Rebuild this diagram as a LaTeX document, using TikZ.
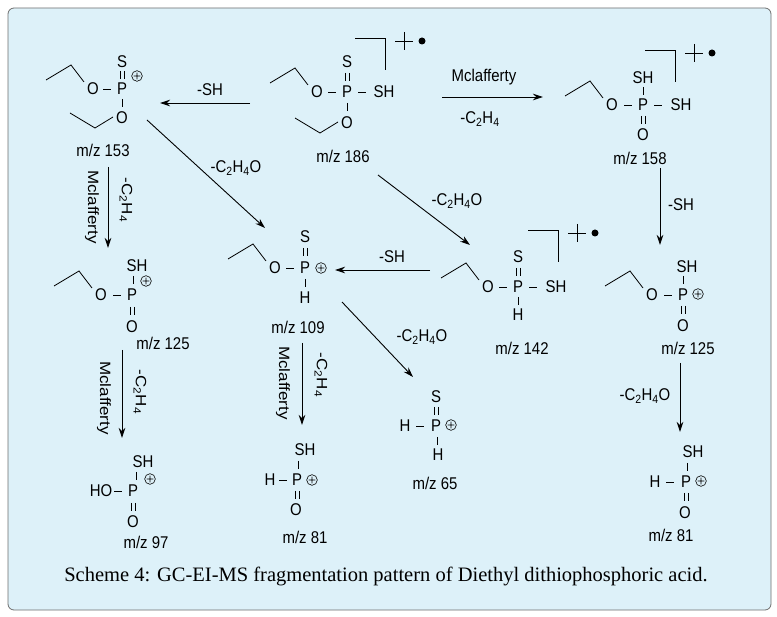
\documentclass[tikz,border=0pt]{standalone}
\usepackage{fontspec}
\usepackage{graphicx}
\usetikzlibrary{arrows.meta}
\setmainfont{Liberation Sans}
\newfontfamily\capfont{Liberation Serif}
\newcommand\sq[1]{\scalebox{0.88}[1]{#1}}
\newcommand\sqr[1]{\scalebox{1}[0.88]{#1}}
\begin{document}
\begin{tikzpicture}[x=1pt,y=-1pt,
  atom/.style={inner sep=0pt,font=\fontsize{17}{17}\selectfont},
  lab/.style={inner sep=0pt,font=\fontsize{17}{17}\selectfont},
  rx/.style={-{Stealth[length=10pt,width=6.5pt]},line width=0.9pt},
  bd/.style={line width=0.8pt}]
\useasboundingbox (0,0) rectangle (777,617);
\draw[fill={rgb,255:red,221;green,241;blue,249},draw={rgb,255:red,110;green,110;blue,110},line width=0.8pt,rounded corners=6pt] (8,8) rectangle (771,610);
% macros
\def\A(#1,#2)#3{\node[atom] at (#1,#2) {\sq{#3}};}
\def\hb(#1,#2){\draw[bd] (#1-4,#2)--(#1+4,#2);}
\def\vb(#1,#2){\draw[bd] (#1,#2-4)--(#1,#2+4);}
\def\db(#1,#2){\draw[bd] (#1-2,#2-4)--(#1-2,#2+4) (#1+2,#2-4)--(#1+2,#2+4);}
\def\pl(#1,#2){\draw[line width=0.6pt] (#1,#2) circle (5.3) (#1-3.4,#2)--(#1+3.4,#2) (#1,#2-3.4)--(#1,#2+3.4);}
\def\et(#1,#2){\draw[bd] (#1-47,#2-9)--(#1-22,#2-24)--(#1-9,#2-7);}
\def\eto(#1,#2){\draw[bd] (#1-52,#2-5)--(#1-27,#2+10)--(#1-9,#2-1);}
\def\rc(#1,#2){\draw[line width=0.9pt] (#1,#2)--(#1+30,#2)--(#1+30,#2+32);
  \draw[line width=0.7pt] (#1+40,#2+3)--(#1+58,#2+3) (#1+49,#2-6)--(#1+49,#2+12);
  \fill (#1+67,#2+3) circle (3.5);}
% A m/z 153
\A(122,62){S}\db(122,75)\A(122,89){P}\pl(137,76)\A(93,89){O}\hb(107,89)\et(93,89)
\vb(122,103)\A(122,118){O}\eto(122,118)
\node[lab] (a) at (103,150) {\sq{m/z 153}};
% B m/z 186
\A(347,62){S}\db(347,77)\A(347,92){P}\A(317,92){O}\hb(332,92)\hb(362,92)\A(384,92){SH}\et(317,92)
\vb(347,107)\A(347,123){O}\eto(347,123)\rc(355,38)
\node[lab] (b) at (343,156) {\sq{m/z 186}};
% C m/z 158
\A(643,78){SH}\vb(643,91)\A(643,105){P}\A(612,105){O}\hb(628,105)\hb(658,105)\A(681,105){SH}\et(612,105)
\db(643,120)\A(643,135){O}\rc(645,50)
\node[lab] (c) at (640,158) {\sq{m/z 158}};
% D m/z 125 right
\A(687,267){SH}\vb(683,280)\A(683,295){P}\pl(698,294)\A(652,295){O}\hb(668,295)\et(652,295)
\db(683,310)\A(683,326){O}
\node[lab] (d) at (688,348) {\sq{m/z 125}};
% E m/z 142
\A(518,257){S}\db(518,272)\A(518,287){P}\A(488,287){O}\hb(503,287)\hb(533,287)\A(556,287){SH}\et(488,287)
\vb(518,301)\A(518,315){H}\rc(528,230)
\node[lab] (e) at (522,348) {\sq{m/z 142}};
% F m/z 109
\A(305,237){S}\db(305,252)\A(305,268){P}\pl(321,268)\A(275,268){O}\hb(290,268)\et(275,268)
\vb(305,283)\A(305,298){H}
\node[lab] (f) at (298,327) {\sq{m/z 109}};
% G m/z 125 left
\A(137,266){SH}\vb(133,280)\A(132,295){P}\pl(146,281)\A(101,295){O}\hb(117,295)\et(101,295)
\db(132,311)\A(132,327){O}
\node[lab] (g) at (163,343) {\sq{m/z 125}};
% H m/z 97
\A(143,462){SH}\vb(136,476)\A(133,491){P}\pl(150,479)\A(101,491){HO}\hb(118,491)
\db(133,507)\A(133,522){O}
\node[lab] (h) at (146,542) {\sq{m/z 97}};
% I m/z 81
\A(305,450){SH}\vb(298,465)\A(297,480){P}\pl(312,480)\A(270,480){H}\hb(283,480)
\db(297,495)\A(296,510){O}
\node[lab] (i) at (305,537) {\sq{m/z 81}};
% J m/z 65
\A(436,397){S}\db(436,411)\A(436,426){P}\pl(451,425)\A(405,426){H}\hb(420,426)
\vb(437,441)\A(438,455){H}
\node[lab] (j) at (435,483) {\sq{m/z 65}};
% K m/z 81
\A(693,452){SH}\vb(687,467)\A(686,482){P}\pl(701,481)\A(655,482){H}\hb(670,482)
\db(686,497)\A(685,513){O}
\node[lab] (k) at (671,535) {\sq{m/z 81}};
% arrows
\draw[rx] (250,103)--(160,103); \node[lab] at (210,90) {\sq{-SH}};
\draw[rx] (442,97)--(543,97); \node[lab] at (484,77) {\sq{Mclafferty}}; \node[lab] at (480,119) {\sq{-C\textsubscript{2}H\textsubscript{4}}};
\draw[rx] (660,168)--(660,245); \node[lab] at (681,205) {\sq{-SH}};
\draw[rx] (147,120)--(265,228); \node[lab] at (236,168) {\sq{-C\textsubscript{2}H\textsubscript{4}O}};
\draw[rx] (378,175)--(470,245); \node[lab] at (457,201) {\sq{-C\textsubscript{2}H\textsubscript{4}O}};
\draw[rx] (430,270)--(335,270); \node[lab] at (392,257) {\sq{-SH}};
\draw[rx] (108,167)--(108,248); \node[lab,rotate=-90] at (92,207) {\sqr{Mclafferty}}; \node[lab,rotate=-90] at (126,200) {\sqr{-C\textsubscript{2}H\textsubscript{4}}};
\draw[rx] (122,350)--(122,438); \node[lab,rotate=-90] at (104,398) {\sqr{Mclafferty}}; \node[lab,rotate=-90] at (140,392) {\sqr{-C\textsubscript{2}H\textsubscript{4}}};
\draw[rx] (302,343)--(302,425); \node[lab,rotate=-90] at (283,383) {\sqr{Mclafferty}}; \node[lab,rotate=-90] at (321,375) {\sqr{-C\textsubscript{2}H\textsubscript{4}}};
\draw[rx] (342,302)--(413,377); \node[lab] at (422,337) {\sq{-C\textsubscript{2}H\textsubscript{4}O}};
\draw[rx] (680,363)--(680,432); \node[lab] at (645,396) {\sq{-C\textsubscript{2}H\textsubscript{4}O}};
\node[inner sep=0pt,font=\capfont\fontsize{20.5}{20.5}\selectfont] at (386,576) {Scheme 4: GC-EI-MS fragmentation pattern of Diethyl dithiophosphoric acid.};
\end{tikzpicture}
\end{document}
